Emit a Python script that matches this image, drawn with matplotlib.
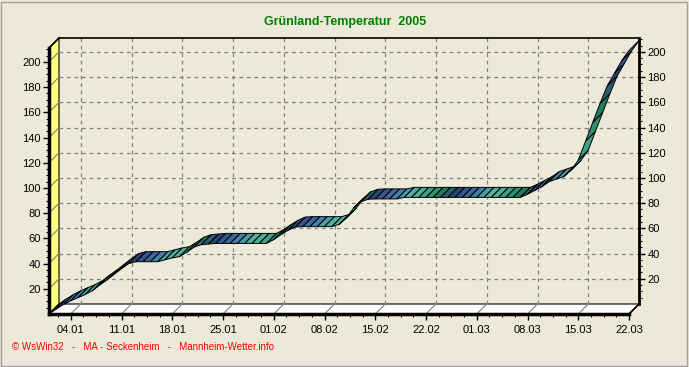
import matplotlib.pyplot as plt
import numpy as np
from matplotlib.patches import Polygon, Rectangle
from matplotlib.colors import LinearSegmentedColormap
from matplotlib.ticker import FixedLocator

plt.rcParams['font.family'] = ['Liberation Sans', 'DejaVu Sans']

# -----------------------------
# Data: Grünland-Temperatur (daily sum), 01.01 - 22.03.2005
# -----------------------------
gt_values = [0, 4, 7.5, 10.5, 13, 15.5, 18.5, 23, 27, 31.5,
             36, 40, 41.5, 41.5, 41.5, 41.5, 43, 44.5, 45.5, 49,
             53, 55, 55.5, 56, 56, 56, 56, 56, 56, 56,
             56, 59, 63, 66.5, 69, 69.3, 69.3, 69.3, 69.3, 69.3,
             71, 76, 84, 89, 91, 91.3, 91.3, 91.3, 91.3, 92.5,
             92.5, 92.5, 92.5, 92.5, 92.5, 92.5, 92.5, 92.5, 92.5, 92.5,
             92.5, 92.5, 92.5, 92.5, 92.5, 92.5, 95, 98, 101, 105,
             107, 109, 114, 122, 137, 152, 167, 181, 191, 201,
             209]
days = np.arange(len(gt_values))

tick_days = [3, 10, 17, 24, 31, 38, 45, 52, 59, 66, 73, 80]
tick_labels = ["04.01", "11.01", "18.01", "25.01", "01.02", "08.02",
               "15.02", "22.02", "01.03", "08.03", "15.03", "22.03"]
y_ticks = np.arange(20, 201, 20)

# -----------------------------
# Figure / 3D box geometry (pixels)
# -----------------------------
W, H = 689, 367
bg = "#ece9d8"
fig = plt.figure(figsize=(W / 100, H / 100), dpi=100, facecolor=bg)

x0, x1 = 49, 639
y_top, y_bot = 38, 314
depth = 10
vmax = 211
n_last = days[-1]

ax = fig.add_axes([x0 / W, (H - y_bot) / H, (x1 - x0) / W, (y_bot - y_top) / H])
ax.set_facecolor("none")

px_day = (x1 - x0 - depth) / n_last
px_val = (y_bot - y_top - depth) / vmax
D = depth / px_day   # depth offset in days
E = depth / px_val   # depth offset in value units
ax.set_xlim(0, n_last + D)
ax.set_ylim(0, vmax + E)

# yellow left wall
ax.add_patch(Polygon([(0, 0), (0, vmax), (D, vmax + E), (D, E)],
                     closed=True, facecolor="#ffff80", edgecolor="black",
                     lw=0.8, zorder=1, clip_on=False))
# white floor
ax.add_patch(Polygon([(0, 0), (n_last, 0), (n_last + D, E), (D, E)],
                     closed=True, facecolor="white", edgecolor="black",
                     lw=0.8, zorder=1, clip_on=False))

# back plane grid
grid_kw = dict(color="#808080", lw=0.9, ls=(0, (3, 3)), zorder=2, clip_on=False)
for v in y_ticks:
    ax.plot([D, n_last + D], [v + E, v + E], **grid_kw)
    ax.plot([0, D], [v, v + E], color="#808080", lw=0.8, zorder=2, clip_on=False)
for t in tick_days[:-1]:
    ax.plot([t + D, t + D], [E, vmax + E], **grid_kw)
    ax.plot([t, t + D], [0, E], color="#808080", lw=0.8, zorder=2, clip_on=False)

# back box outline
ax.plot([D, n_last + D], [vmax + E, vmax + E], color="black", lw=1.2, zorder=3, clip_on=False)
ax.plot([0, D], [vmax, vmax + E], color="black", lw=1.2, zorder=3, clip_on=False)
ax.plot([n_last, n_last + D], [0, E], color="black", lw=1.2, zorder=3, clip_on=False)

# -----------------------------
# Ribbon
# -----------------------------
cmap = LinearSegmentedColormap.from_list(
    "ribbon", ["#2b4476", "#3d62a0", "#4a93a8", "#58b89e", "#3a9a80",
               "#22775c", "#2b4476"])
period = 11
for i in range(len(days) - 1):
    xa, xb = days[i], days[i + 1]
    ya, yb = gt_values[i], gt_values[i + 1]
    poly = [(xa, ya), (xb, yb), (xb + D, yb + E), (xa + D, ya + E)]
    col = cmap((i % period) / period)
    ax.add_patch(Polygon(poly, closed=True, facecolor=col, edgecolor="black",
                         lw=0.7, zorder=4, clip_on=False))

# -----------------------------
# Axes: left (front) and bottom
# -----------------------------
for s in ["top", "right"]:
    ax.spines[s].set_visible(False)
ax.spines["left"].set_bounds(0, vmax)
ax.spines["left"].set_linewidth(2.5)
ax.spines["bottom"].set_bounds(0, n_last)
ax.spines["bottom"].set_linewidth(2.5)
ax.spines["left"].set_zorder(5)
ax.spines["bottom"].set_zorder(5)

ax.set_yticks(y_ticks)
ax.set_yticklabels([str(v) for v in y_ticks], fontsize=8)
ax.yaxis.set_minor_locator(FixedLocator(np.arange(5, vmax, 5)))
ax.set_xticks(tick_days)
ax.set_xticklabels(tick_labels, fontsize=8)
ax.xaxis.set_minor_locator(FixedLocator(np.arange(3 - 1.75, n_last, 1.75)))
ax.tick_params(axis="both", which="major", direction="out", length=4, width=1, pad=2)
ax.tick_params(axis="both", which="minor", direction="out", length=2, width=0.8)
ax.tick_params(axis="x", pad=4)

# right (back) axis
ax2 = ax.twinx()
ax2.set_ylim(-E, vmax)
ax2.set_facecolor("none")
for s in ["top", "left", "bottom"]:
    ax2.spines[s].set_visible(False)
ax2.spines["right"].set_bounds(0, vmax)
ax2.spines["right"].set_linewidth(2)
ax2.set_yticks(y_ticks)
ax2.set_yticklabels([str(v) for v in y_ticks], fontsize=8)
ax2.yaxis.set_minor_locator(FixedLocator(np.arange(5, vmax, 5)))
ax2.tick_params(axis="y", which="major", direction="out", length=4, width=1, pad=2)
ax2.tick_params(axis="y", which="minor", direction="out", length=2, width=0.8)

# -----------------------------
# Texts and frame
# -----------------------------
fig.text(345 / W, 1 - 22 / H, "Grünland-Temperatur  2005", color="#008000",
         fontsize=9, fontweight="bold", ha="center", va="center")
fig.text(12 / W, 1 - 347 / H,
         "© WsWin32   -   MA - Seckenheim   -   Mannheim-Wetter.info",
         color="#ff0000", fontsize=7, ha="left", va="center")
fig.patches.append(Rectangle((1 / W, 1 / H), (W - 3) / W, (H - 3) / H,
                             transform=fig.transFigure, fill=False,
                             edgecolor="#a0a0a0", lw=1))

fig.savefig("out.png", dpi=100, facecolor=bg)
